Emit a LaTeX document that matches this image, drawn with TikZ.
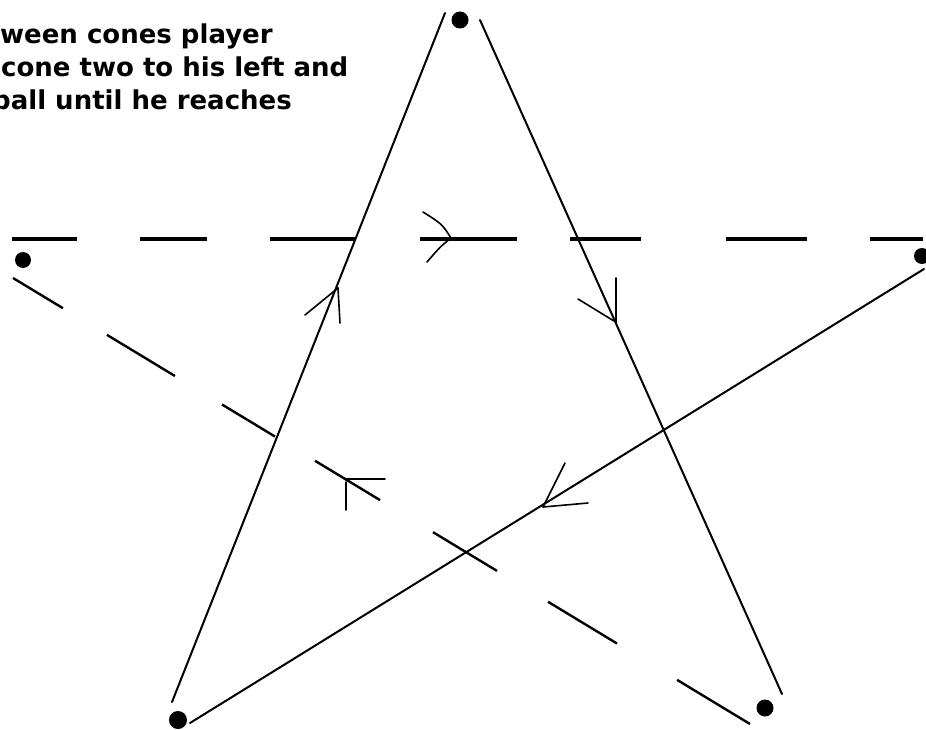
\documentclass[tikz,border=0pt]{standalone}
\usepackage{fontspec}
\newfontfamily\notefont{DejaVu Sans Bold}
\usetikzlibrary{calc}
\begin{document}
\begin{tikzpicture}[x=1pt,y=-1pt,
  cone/.style={circle,fill=black,inner sep=0pt,minimum size=#1},
  starline/.style={line width=2pt,line cap=round},
  dashline/.style={line width=2.4pt},
  hdash/.style={line width=3.2pt},
  arm/.style={line width=1.6pt,line cap=round},
  note/.style={anchor=base west,inner sep=0pt,font=\notefont\fontsize{26}{31}\selectfont}]
\useasboundingbox (0,0) rectangle (926,730);
\clip (0,0) rectangle (926,730);
\fill[white] (0,0) rectangle (926,730);

% text
\node[note] (t1) at (0,44) {ween cones player};
\node[note] (t2) at (1,77) {cone two to his left and};
\node[note] (t3) at (-8,110) {ball until he reaches};

% cones
\node[cone=17pt] (ctop) at (460,20) {};
\node[cone=16pt] (cleft) at (23,260) {};
\node[cone=16pt] (cright) at (922,256) {};
\node[cone=18pt] (cbl) at (178,720) {};
\node[cone=17pt] (cbr) at (765,708) {};

% line end points
\coordinate (l1a) at (445,13);
\coordinate (l1b) at (172,702);
\coordinate (l2a) at (480,20);
\coordinate (l2b) at (782,694);
\coordinate (l3a) at (190,723);
\coordinate (l3b) at (924,269);
\coordinate (da) at (13,278);
\coordinate (db) at (750,724);

% star lines
\draw[starline] (l1a) -- (l1b);
\draw[starline] (l2a) -- (l2b);
\draw[starline] (l3a) -- (l3b);

% dashed diagonal
\foreach \s/\e in {0/0.0678,0.1275/0.2198,0.2836/0.3555,0.4098/0.498,0.5699/0.6567,0.7259/0.8195,0.901/1}
  \draw[dashline] ($(da)!\s!(db)$) -- ($(da)!\e!(db)$);

% dashed horizontal
\foreach \s/\e in {12/77,140/207,270/355,420/517,570/641,726/807,870/923}
  \draw[hdash] (\s,239) -- (\e,239);

% arrowheads
\coordinate (ah) at (451,238);
\draw[arm] (423,212) .. controls (442,224) .. (ah);
\draw[arm] (ah) .. controls (440,247) .. (427,262);

\coordinate (a1) at (338,288);
\draw[arm] (305,315) -- (a1);
\draw[arm] (a1) -- (340,323);

\coordinate (a2) at (614,321);
\draw[arm] (578,299) -- (a2);
\draw[arm] (616,278) -- (616,322);

\coordinate (a3) at (345,479);
\draw[arm] (a3) -- (385,479);
\draw[arm] (346,482) -- (346,510);

\coordinate (a4) at (543,507);
\draw[arm] (565,463) -- (a4);
\draw[arm] (a4) -- (588,503);
\end{tikzpicture}
\end{document}
